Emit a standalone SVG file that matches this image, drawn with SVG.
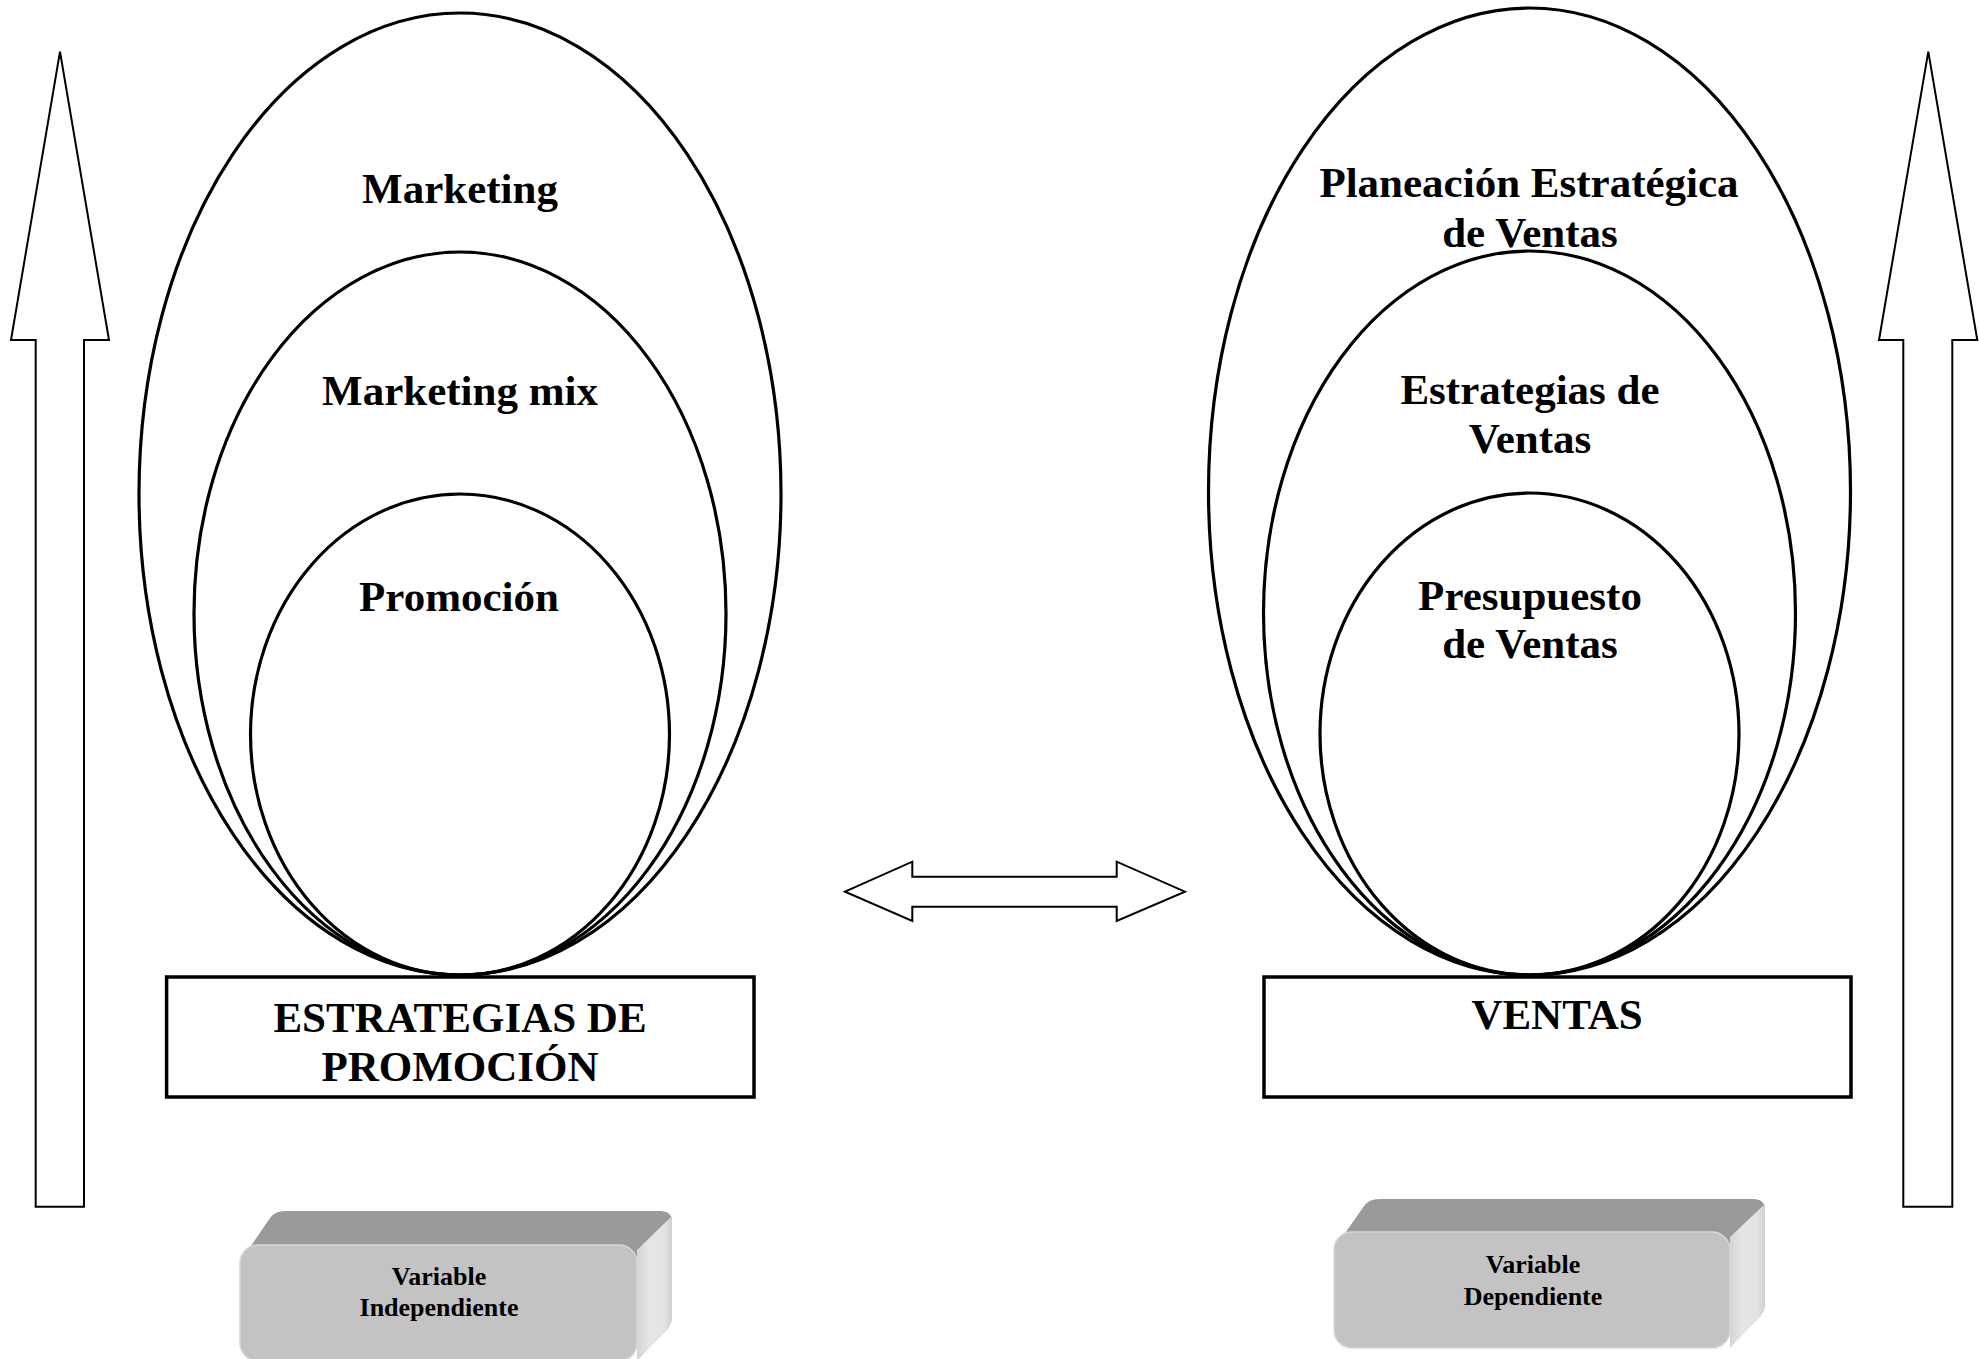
<svg xmlns="http://www.w3.org/2000/svg" width="1979" height="1359" viewBox="0 0 1979 1359">
  <defs>
    <style>
      .ring { fill: none; stroke: #000; stroke-width: 3.2; }
      .box { fill: #fff; stroke: #000; stroke-width: 3.5; }
      .arrow { fill: #fff; stroke: #000; stroke-width: 2; stroke-linejoin: miter; }
      .lbl { font-family: "Liberation Serif", "Times New Roman", serif; font-weight: bold; font-size: 43px; fill: #000; text-anchor: middle; }
      .tag { font-family: "Liberation Serif", "Times New Roman", serif; font-weight: bold; font-size: 26px; fill: #000; text-anchor: middle; }
      .top-face { fill: #9a9a9a; }
      .front-face { fill: #c3c3c3; stroke: #d6d6d6; stroke-width: 1.5; }
      .side-face { fill: url(#sideShade); }
    </style>
    <linearGradient id="sideShade" x1="0" y1="0" x2="1" y2="0">
      <stop offset="0" stop-color="#d4d4d4"/>
      <stop offset="0.35" stop-color="#e6e6e6"/>
      <stop offset="0.8" stop-color="#e2e2e2"/>
      <stop offset="1" stop-color="#cfcfcf"/>
    </linearGradient>
  </defs>

  <rect width="1979" height="1359" fill="#fff"/>

  <!-- vertical arrows and the two-way arrow between the halves -->
  <g id="connectors">
    <polygon class="arrow" points="60,51.7 109,340 84,340 84,1206.7 35.7,1206.7 35.7,340 11,340"/>
    <polygon class="arrow" points="1928.3,51.7 1977.3,340 1952.3,340 1952.3,1206.7 1903.3,1206.7 1903.3,340 1879,340"/>
    <polygon class="arrow" points="845,891.7 912.3,861.7 912.3,876.7 1116.7,876.7 1116.7,861.7 1185,891.7 1116.7,921 1116.7,906.7 912.3,906.7 912.3,921"/>
  </g>

  <!-- left nest: marketing > marketing mix > promotion -->
  <g id="left-nest">
    <ellipse class="ring" cx="460" cy="494" rx="321" ry="481"/>
    <ellipse class="ring" cx="460" cy="613.5" rx="266" ry="361.5"/>
    <ellipse class="ring" cx="460" cy="734.5" rx="209.5" ry="240.5"/>
    <text class="lbl" x="460" y="203">Marketing</text>
    <text class="lbl" x="460" y="405">Marketing mix</text>
    <text class="lbl" x="459" y="611">Promoción</text>
  </g>

  <!-- right nest: strategic planning > sales strategies > sales budget -->
  <g id="right-nest">
    <ellipse class="ring" cx="1529.5" cy="491.5" rx="321" ry="483.5"/>
    <ellipse class="ring" cx="1529.5" cy="613" rx="266" ry="362"/>
    <ellipse class="ring" cx="1529.5" cy="734" rx="209.5" ry="241"/>
    <text class="lbl" x="1529" y="197">Planeación Estratégica</text>
    <text class="lbl" x="1530" y="247">de Ventas</text>
    <text class="lbl" x="1530" y="404">Estrategias de</text>
    <text class="lbl" x="1530" y="453">Ventas</text>
    <text class="lbl" x="1530" y="610">Presupuesto</text>
    <text class="lbl" x="1530" y="658">de Ventas</text>
  </g>

  <g id="box-promocion">
    <rect class="box" x="166.6" y="977" width="587.4" height="120"/>
    <text class="lbl" x="460" y="1032">ESTRATEGIAS DE</text>
    <text class="lbl" x="460" y="1081">PROMOCIÓN</text>
  </g>

  <g id="box-ventas">
    <rect class="box" x="1264" y="977" width="587" height="120"/>
    <text class="lbl" x="1557" y="1029">VENTAS</text>
  </g>

  <!-- bevelled label blocks -->
  <g id="var-independiente">
    <path class="top-face" d="M240,1262 L270,1218 Q275,1211 285,1211 L660,1211 Q672,1211 672,1222 L637,1262 Z"/>
    <path class="side-face" d="M637,1250 L672,1216 L672,1318 Q672,1324 667,1330 L637,1361 Z"/>
    <rect class="front-face" x="240" y="1245" width="397" height="116" rx="18"/>
    <text class="tag" x="439" y="1285">Variable</text>
    <text class="tag" x="439" y="1316">Independiente</text>
  </g>

  <g id="var-dependiente">
    <path class="top-face" d="M1334,1249 L1364,1206 Q1369,1199 1379,1199 L1753,1199 Q1765,1199 1765,1210 L1730,1249 Z"/>
    <path class="side-face" d="M1730,1237 L1765,1204 L1765,1305 Q1765,1311 1760,1317 L1730,1348 Z"/>
    <rect class="front-face" x="1334" y="1232" width="396" height="116" rx="18"/>
    <text class="tag" x="1533" y="1273">Variable</text>
    <text class="tag" x="1533" y="1305">Dependiente</text>
  </g>
</svg>
